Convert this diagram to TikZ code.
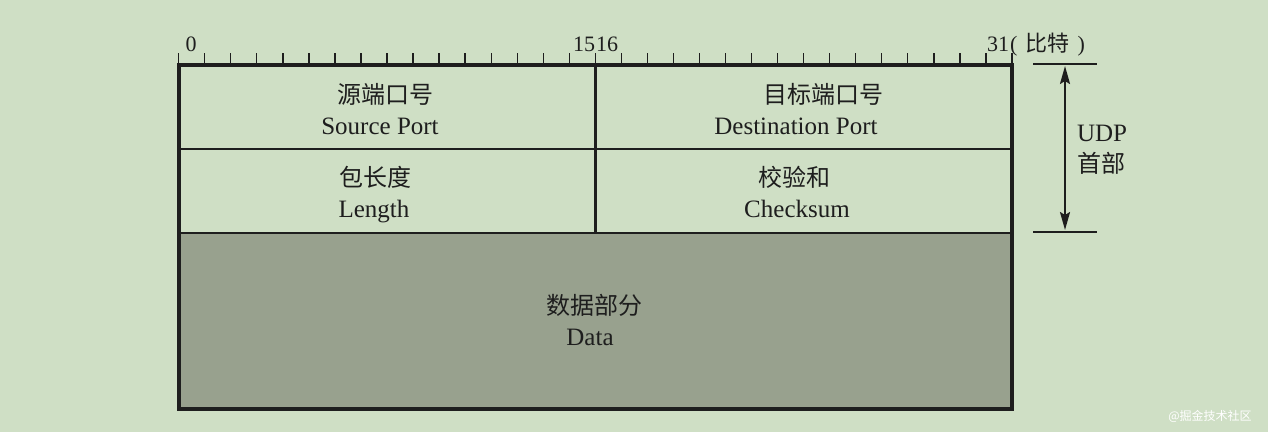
\documentclass[tikz,border=0pt]{standalone}
\usepackage{fontspec}
\setmainfont{Liberation Serif}
\newfontfamily\cjk{Noto Sans CJK SC}
\usetikzlibrary{arrows.meta}
\definecolor{bg}{RGB}{207,223,197}
\definecolor{datafill}{RGB}{152,161,142}
\definecolor{ink}{RGB}{30,30,30}
\begin{document}
\begin{tikzpicture}[x=1pt,y=-1pt,
  cn/.style={inner sep=0pt,anchor=center,font=\cjk\fontsize{24}{24}\selectfont,text=ink},
  lt/.style={inner sep=0pt,anchor=base,font=\fontsize{25}{25}\selectfont,text=ink},
  num/.style={inner sep=0pt,anchor=base,font=\fontsize{22}{22}\selectfont,text=ink},
  tick/.style={line width=1.3pt,draw=ink},
  frame/.style={line width=4pt,draw=ink},
  divider/.style={line width=2.4pt,draw=ink},
  brace/.style={line width=1.4pt,draw=ink},
  span/.style={line width=2pt,draw=ink,{Stealth[length=18pt,width=10pt,inset=3pt]}-{Stealth[length=18pt,width=10pt,inset=3pt]}}
]
\fill[bg] (0,0) rectangle (1268,432);
\useasboundingbox (0,0) rectangle (1268,432);
% data area
\fill[datafill] (178.7,233) rectangle (1012,409);
% ticks
\foreach \i in {0,...,32} {
  \draw[tick] ({178.7+\i*26.04},53) -- ({178.7+\i*26.04},65);
}
% bit labels
\node[num] (b0) at (191,51) {0};
\node[num] (b15) at (584,51) {15};
\node[num] (b16) at (607,51) {16};
\node[num] (b31) at (998,51) {31};
\node[num,anchor=base west] (unit) at (1010,51) {(\kern8pt{\cjk 比特}\kern8pt)};
% inner dividers
\draw[divider] (178.7,149) -- (1012,149);
\draw[divider] (178.7,233) -- (1012,233);
\draw[divider] (595.4,65) -- (595.4,233);
% frame
\draw[frame] (178.7,65) rectangle (1012,409);
% texts
\node[cn] (src) at (385,94) {源端口号};
\node[lt] (srcE) at (380,134) {Source Port};
\node[cn] (dst) at (823,94) {目标端口号};
\node[lt] (dstE) at (796,134) {Destination Port};
\node[cn] (len) at (375,177) {包长度};
\node[lt] (lenE) at (374,217) {Length};
\node[cn] (chk) at (794,177) {校验和};
\node[lt] (chkE) at (797,217) {Checksum};
\node[cn] (dat) at (594,305) {数据部分};
\node[lt] (datE) at (590,345) {Data};
% UDP header span
\coordinate (htop) at (1065,66);
\coordinate (hbot) at (1065,230);
\draw[brace] (1033,64) -- (1097,64);
\draw[brace] (1033,232) -- (1097,232);
\draw[span] (htop) -- (hbot);
\node[lt,anchor=base] (udp) at (1102,141) {UDP};
\node[cn] (hdr) at (1101,163) {首部};
% watermark
\node[inner sep=0pt,font=\cjk\fontsize{12}{12}\selectfont,text=white] (wm) at (1210,416) {@掘金技术社区};
\end{tikzpicture}
\end{document}
